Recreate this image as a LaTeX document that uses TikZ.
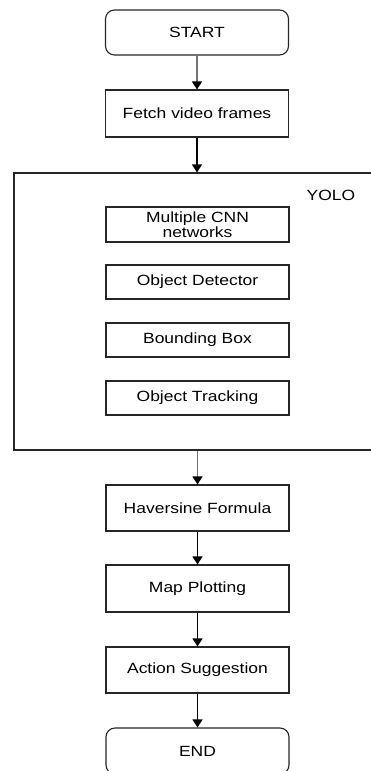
\documentclass[tikz,border=0pt]{standalone}
\usepackage{fontspec}
\setmainfont{Liberation Sans}[FakeStretch=1.18]
\usetikzlibrary{arrows.meta}
\begin{document}
\begin{tikzpicture}[x=1pt,y=-1pt,
  every node/.style={font=\fontsize{14.8}{15.5}\selectfont},
  procbox/.style={draw=black!85,line width=1.1pt,minimum width=183pt,inner sep=0pt,align=center},
  termbox/.style={procbox,rounded corners=9pt},
  arr/.style={line width=1.3pt,-{Triangle[width=10pt,length=8pt,color=black]}},
  grayarr/.style={arr,draw=black!55}]
\useasboundingbox (0,0) rectangle (371,771);
\clip (0,0) rectangle (371,771);
\node[termbox,minimum height=45pt] (start) at (197,32.5) {START};
\node[procbox,minimum height=47pt] (fetch) at (197,113.5) {Fetch video frames};
\node[draw=black!85,line width=1.1pt,minimum width=358pt,minimum height=277pt,inner sep=0pt] (yolo) at (193,311.5) {};
\node (yololabel) at (331,195) {YOLO};
\node[procbox,minimum height=35pt] (cnn) at (197.5,224.5) {Multiple CNN\\networks};
\node[procbox,minimum height=34pt] (od) at (197.5,282) {Object Detector};
\node[procbox,minimum height=34pt] (bb) at (197.5,340) {Bounding Box};
\node[procbox,minimum height=34pt] (ot) at (197.5,398) {Object Tracking};
\node[procbox,minimum height=46pt] (hav) at (197.5,508) {Haversine Formula};
\node[procbox,minimum height=47pt] (map) at (197.5,588.5) {Map Plotting};
\node[procbox,minimum height=46pt] (act) at (197.5,670) {Action Suggestion};
\node[termbox,minimum height=46pt] (end) at (197.5,751) {END};
\draw[grayarr] (start.south) -- (fetch.north);
\draw[arr] (fetch.south) -- (fetch.south |- yolo.north);
\draw[grayarr] (hav.north |- yolo.south) -- (hav.north);
\draw[arr] (hav.south) -- (map.north);
\draw[arr] (map.south) -- (act.north);
\draw[arr] (act.south) -- (end.north);
\end{tikzpicture}
\end{document}
